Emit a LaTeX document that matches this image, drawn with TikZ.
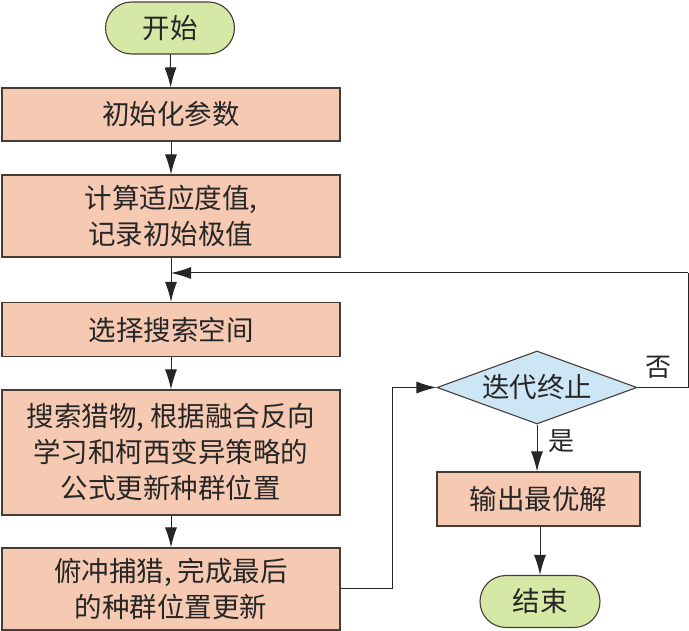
\documentclass[tikz,border=0pt]{standalone}
\usepackage{fontspec}
\setmainfont{Noto Sans CJK SC}
\usetikzlibrary{shapes.geometric,shapes.misc,arrows.meta,calc}
\definecolor{boxfill}{RGB}{246,202,178}
\definecolor{termfill}{RGB}{214,232,166}
\definecolor{decfill}{RGB}{205,230,246}
\definecolor{edge}{RGB}{70,60,55}
\begin{document}
\begin{tikzpicture}[x=1pt,y=-1pt,
  every node/.style={font=\fontsize{27.5}{36}\selectfont, text=black!85, inner sep=0pt},
  procbox/.style={draw=edge, line width=1.1pt, fill=boxfill, minimum width=338pt, align=center},
  outbox/.style={draw=edge, line width=1.1pt, fill=boxfill, minimum width=203pt, minimum height=54pt, align=center},
  termbox/.style={draw=edge, line width=1.1pt, fill=termfill, rounded rectangle, minimum height=52pt},
  decbox/.style={draw=edge, line width=1.1pt, fill=decfill, diamond, aspect=2.74, minimum width=200pt, minimum height=73pt},
  conn/.style={draw=black!85, line width=1pt, -{Latex[length=20pt,width=12pt]}},
  line/.style={draw=black!85, line width=1pt},
  lbl/.style={font=\fontsize{26}{28}\selectfont}
]
\useasboundingbox (0,0) rectangle (689,631);
\node[termbox, minimum width=129pt] (start) at (170,28) {开始};
\node[procbox, minimum height=53pt] (b1) at (171,114.5) {初始化参数};
\node[procbox, minimum height=82pt] (b2) at (171,216) {计算适应度值,\\记录初始极值};
\node[procbox, minimum height=54pt] (b3) at (171,329.5) {选择搜索空间};
\node[procbox, minimum height=125pt] (b4) at (171,452.5) {搜索猎物, 根据融合反向\\学习和柯西变异策略的\\公式更新种群位置};
\node[procbox, minimum height=82pt] (b5) at (171,589) {俯冲捕猎, 完成最后\\的种群位置更新};
\node[decbox] (d) at (537,387.5) {迭代终止};
\node[outbox] (out) at (538.5,499) {输出最优解};
\node[termbox, minimum width=120pt] (end) at (540,601.5) {结束};
\node[lbl] (no) at (658,367) {否};
\node[lbl] (yes) at (561,441) {是};
\coordinate (j) at (171,273);
\coordinate (r1) at (688,387.5);
\coordinate (r2) at (688,273);
\coordinate (l1) at (392,588);
\coordinate (l2) at (392,387.5);
\draw[conn] (start) -- (b1);
\draw[conn] (b1) -- (b2);
\draw[conn] (b2) -- (b3);
\draw[conn] (b3) -- (b4);
\draw[conn] (b4) -- (b5);
\draw[line] (b5.east |- l1) -- (l1) -- (l2);
\draw[conn] (l2) -- (d.west);
\draw[line] (d.east) -- (r1) -- (r2);
\draw[conn] (r2) -- (j);
\draw[conn] (d.south) -- (out.north -| d.south);
\draw[conn] (out.south -| end.north) -- (end.north);
\end{tikzpicture}
\end{document}
